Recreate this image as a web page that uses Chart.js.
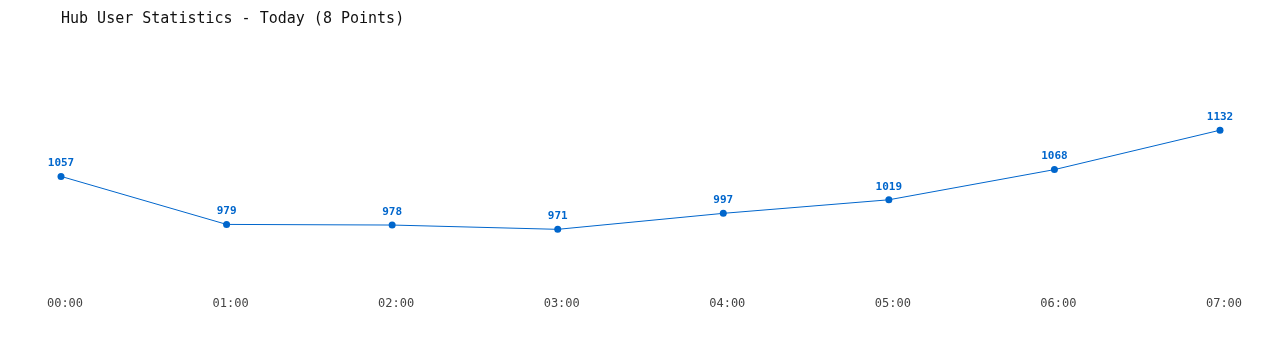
<!DOCTYPE html>
<html>
<head>
<meta charset="utf-8">
<script src="https://cdn.jsdelivr.net/npm/chart.js@4/dist/chart.umd.min.js"></script>
<style>
html,body{margin:0;padding:0;background:#fff;}
#wrap{width:1280px;height:350px;}
</style>
</head>
<body>
<div id="wrap"><canvas id="c" width="1280" height="350"></canvas></div>
<script>
const categories = ["00:00","01:00","02:00","03:00","04:00","05:00","06:00","07:00"];
const users = [1057, 979, 978, 971, 997, 1019, 1068, 1132];
const titleText = "Hub User Statistics - Today (8 Points)";

const BLUE = "#0066cc";
const FONT = "'DejaVu Sans Mono', 'Liberation Mono', monospace";

const valueLabels = {
  id: "valueLabels",
  afterDatasetsDraw(chart) {
    const ctx = chart.ctx;
    const meta = chart.getDatasetMeta(0);
    ctx.save();
    ctx.font = "bold 11px " + FONT;
    ctx.fillStyle = BLUE;
    ctx.textAlign = "center";
    ctx.textBaseline = "middle";
    meta.data.forEach((pt, i) => {
      ctx.fillText(String(chart.data.datasets[0].data[i]), pt.x, pt.y - 13);
    });
    ctx.restore();
  }
};

new Chart(document.getElementById("c"), {
  type: "line",
  data: {
    labels: categories,
    datasets: [{
      data: users,
      borderColor: BLUE,
      backgroundColor: BLUE,
      borderWidth: 1,
      pointRadius: 3.5,
      pointBackgroundColor: BLUE,
      pointBorderColor: BLUE,
      pointBorderWidth: 0,
      tension: 0,
      fill: false
    }]
  },
  options: {
    responsive: false,
    animation: false,
    devicePixelRatio: 1,
    layout: { padding: { left: 61, right: 60, top: 0, bottom: 13 } },
    plugins: {
      legend: { display: false },
      tooltip: { enabled: false },
      title: {
        display: true,
        text: titleText,
        align: "start",
        color: "#111111",
        font: { family: FONT, size: 15, weight: "normal" },
        padding: { top: 10, bottom: 32 }
      }
    },
    scales: {
      x: {
        offset: false,
        grid: { display: false, drawTicks: false },
        border: { display: false },
        ticks: {
          color: "#444444",
          font: { family: FONT, size: 12 },
          padding: 26,
          labelOffset: 4,
          maxRotation: 0,
          autoSkip: false
        }
      },
      y: {
        display: false,
        min: 904,
        max: 1246
      }
    }
  },
  plugins: [valueLabels]
});
</script>
</body>
</html>
